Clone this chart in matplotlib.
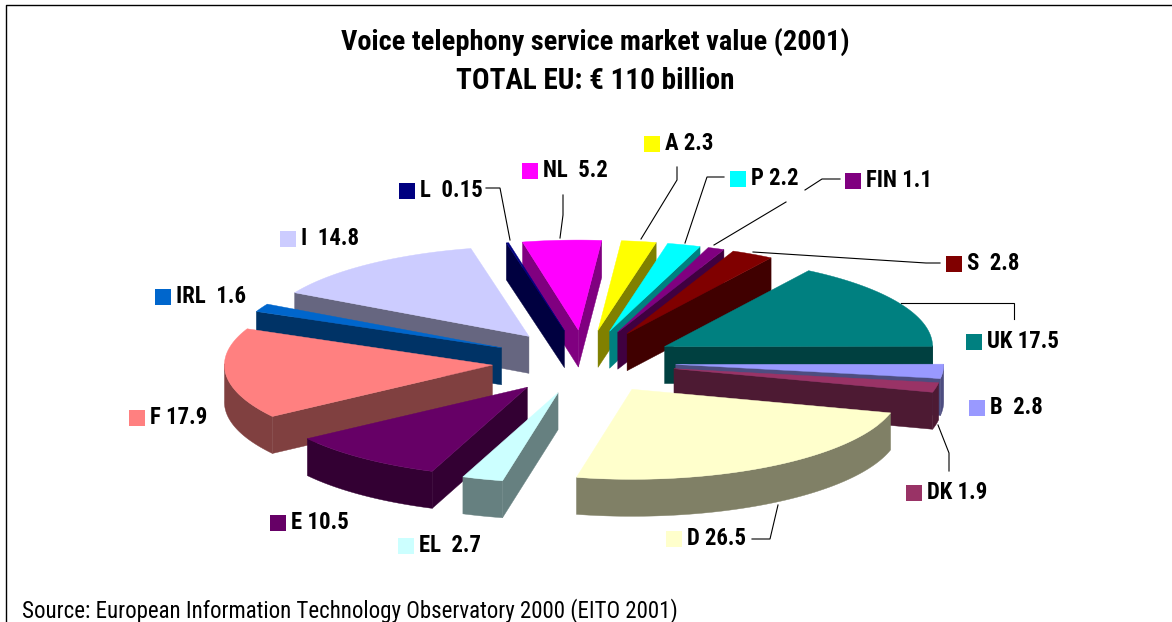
import numpy as np
import matplotlib
matplotlib.use("Agg")
import matplotlib.pyplot as plt
from matplotlib import font_manager as fm
from matplotlib.colors import to_rgb
from matplotlib.patches import Polygon, Rectangle

# ---- data ----
codes = ["A", "P", "FIN", "S", "UK", "B", "DK", "D", "EL", "E", "F", "IRL", "I", "L", "NL"]
values = [2.3, 2.2, 1.1, 2.8, 17.5, 2.8, 1.9, 26.5, 2.7, 10.5, 17.9, 1.6, 14.8, 0.15, 5.2]
labels = ["A 2.3", "P 2.2", "FIN 1.1", "S  2.8", "UK 17.5", "B  2.8", "DK 1.9", "D 26.5",
          "EL  2.7", "E 10.5", "F 17.9", "IRL  1.6", "I  14.8", "L  0.15", "NL  5.2"]
colors = ["#FFFF00", "#00FFFF", "#800080", "#800000", "#008080", "#9999FF", "#993366", "#FFFFCC",
          "#CCFFFF", "#660066", "#FF8080", "#0066CC", "#CCCCFF", "#000080", "#FF00FF"]
title_lines = ["Voice telephony service market value (2001)", "TOTAL EU: € 110 billion"]
source = "Source: European Information Technology Observatory 2000 (EITO 2001)"

# ---- layout / style ----
names = {f.name for f in fm.fontManager.ttflist}
narrow = next((n for n in ["Liberation Sans Narrow", "Roboto Condensed", "Liberation Sans"] if n in names),
              "DejaVu Sans")
CX, CY, EX, EY, RX, RY, DEPTH, START = 584, 362, 92, 32, 268, 90, 37, 5.0
KEY = 16
label_pos = {"A": (644, 144), "P": (730, 179), "FIN": (845, 181), "S": (946, 264),
             "UK": (966, 342), "B": (969, 408), "DK": (906, 493), "D": (666, 539),
             "EL": (398, 546), "E": (270, 523), "F": (129, 418), "IRL": (155, 297),
             "I": (280, 239), "L": (399, 191), "NL": (522, 171)}
leaders = [
    [(486, 188), (500, 188), (510, 240)],
    [(563, 195), (563, 215), (560, 238)],
    [(677, 167), (677, 180), (641, 239)],
    [(724, 177), (707, 177), (685, 243)],
    [(840, 179), (822, 179), (805, 190)],
    [(786, 202), (714, 245)],
    [(940, 263), (926, 263), (753, 252)],
    [(1014, 319), (1014, 303), (901, 303)],
    [(949, 471), (949, 453), (938, 425)],
    [(752, 539), (770, 539), (778, 505)],
]

fig = plt.figure(figsize=(11.72, 6.22), dpi=100)
ax = fig.add_axes([0, 0, 1, 1])
ax.set_xlim(0, 1172)
ax.set_ylim(622, 0)
ax.axis("off")


def pt(theta_deg, tip):
    t = np.radians(theta_deg)
    return np.column_stack([tip[0] + RX * np.sin(t), tip[1] - RY * np.cos(t)])


shares = np.array(values) / np.sum(values) * 360
edges = START + np.concatenate([[0], np.cumsum(shares)])
mids = (edges[:-1] + edges[1:]) / 2
order = np.argsort(-np.cos(np.radians(mids)))

for i in order:
    a, b, m = edges[i], edges[i + 1], np.radians(mids[i])
    tip = np.array([CX + EX * np.sin(m), CY - EY * np.cos(m)])
    th = np.linspace(a, b, max(3, int(b - a) * 2))
    arc = pt(th, tip)
    face = to_rgb(colors[i])
    dark = tuple(c * 0.5 for c in face)
    down = np.array([0, DEPTH])
    inner = arc[len(arc) // 2]

    # radial walls facing the viewer
    for e in (arc[0], arc[-1]):
        d = e - tip
        n = np.array([-d[1], d[0]])
        if np.dot(n, inner - tip) > 0:
            n = -n
        if n[1] > 0:
            ax.add_patch(Polygon([tip, e, e + down, tip + down], closed=True,
                                 fc=dark, ec=dark, lw=0.3, zorder=2))
    # outer rim
    mask = np.cos(np.radians(th)) < 0.02
    if mask.sum() >= 2:
        rim = arc[mask]
        ax.add_patch(Polygon(np.vstack([rim, (rim + down)[::-1]]), closed=True,
                             fc=dark, ec=dark, lw=0.3, zorder=2))
    # top face
    ax.add_patch(Polygon(np.vstack([tip, arc]), closed=True, fc=face, ec=face, lw=0.3, zorder=2))

# keys and labels
for code, lab, col in zip(codes, labels, colors):
    x, y = label_pos[code]
    ax.add_patch(Rectangle((x, y - KEY / 2), KEY, KEY, fc=col, ec="none", zorder=3))
    ax.text(x + 21, y - 0.5, lab, family=narrow, weight="bold", fontsize=16.4,
            va="center", ha="left", color="black", zorder=4)

# leader lines
for seg in leaders:
    xs, ys = zip(*seg)
    ax.plot(xs, ys, color="black", lw=0.8, zorder=4, solid_joinstyle="miter")

# title and source
ax.text(595, 42, title_lines[0], family=narrow, weight="bold", fontsize=20.4, ha="center", va="center")
ax.text(595, 81, title_lines[1], family=narrow, weight="bold", fontsize=21, ha="center", va="center")
ax.text(22, 611, source, family=narrow, fontsize=16.5, ha="left", va="center")

# frame
ax.plot([5.5, 5.5, 1172], [622, 4.5, 4.5], color="black", lw=1.0, zorder=5)

fig.savefig("out.png", dpi=100)
